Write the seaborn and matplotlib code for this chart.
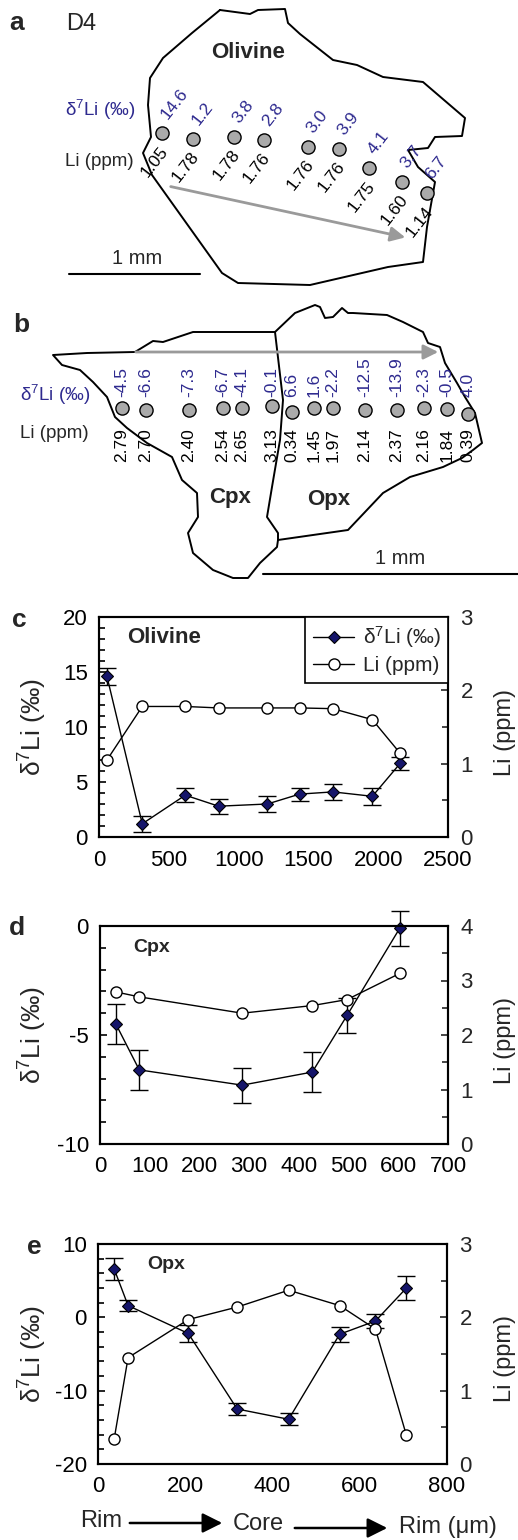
import numpy as np
import pandas as pd
import matplotlib
matplotlib.use("Agg")
import matplotlib.pyplot as plt
import seaborn as sns
from matplotlib.ticker import MultipleLocator

# ------------------------------------------------------------------ data
ol_dist = [57, 310, 618, 857, 1206, 1437, 1676, 1958, 2158]
ol_d7li = [14.6, 1.2, 3.8, 2.8, 3.0, 3.9, 4.1, 3.7, 6.7]
ol_d7li_err = [0.75, 0.7, 0.65, 0.7, 0.7, 0.6, 0.7, 0.8, 0.6]
ol_li = [1.05, 1.78, 1.78, 1.76, 1.76, 1.76, 1.75, 1.60, 1.14]

cpx_dist = [32, 79, 286, 427, 497, 603]
cpx_d7li = [-4.5, -6.6, -7.3, -6.7, -4.1, -0.1]
cpx_d7li_err = [0.9, 0.9, 0.8, 0.9, 0.8, 0.8]
cpx_li = [2.79, 2.70, 2.40, 2.54, 2.65, 3.13]

opx_dist = [37, 69, 207, 319, 437, 554, 636, 707]
opx_d7li = [6.6, 1.6, -2.2, -12.5, -13.9, -2.3, -0.5, 4.0]
opx_d7li_err = [1.5, 0.75, 1.1, 0.8, 0.8, 1.0, 0.9, 1.6]
opx_li = [0.34, 1.45, 1.97, 2.14, 2.37, 2.16, 1.84, 0.39]

# schematic geometry of the grain sketches (figure pixel space)
a_spot_x = [162, 193, 234, 264, 308, 339, 369, 402, 427]
a_spot_y = [133, 139, 137, 140, 147, 149, 168, 182, 193]
b_spot_x = [122, 146, 189, 223, 242, 272, 292, 314, 333, 365, 397, 424, 447, 468]
b_spot_y = [408, 410, 410, 408, 408, 406, 412, 408, 408, 410, 410, 408, 409, 414]

olivine_outline = [(220, 10), (250, 14), (258, 10), (285, 9), (288, 23), (300, 34),
                   (333, 60), (357, 65), (383, 77), (423, 82), (465, 118), (462, 136),
                   (435, 137), (428, 148), (408, 150), (418, 167), (435, 182),
                   (427, 227), (423, 262), (388, 267), (310, 285), (238, 283),
                   (222, 273), (152, 175), (143, 153), (151, 137), (148, 105),
                   (150, 78), (163, 58), (192, 33), (220, 10)]
cpx_outline = [(275, 332), (193, 332), (163, 342), (153, 341), (135, 352), (87, 353),
               (53, 355), (62, 365), (80, 370), (93, 382), (107, 397), (115, 417),
               (127, 428), (147, 443), (172, 457), (182, 480), (197, 493), (198, 517),
               (188, 533), (193, 553), (213, 570), (233, 578), (248, 578), (260, 563),
               (277, 547), (278, 540)]
grain_boundary = [(275, 332), (283, 400), (280, 440), (272, 487), (267, 517),
                  (278, 533), (278, 540)]
opx_outline = [(275, 332), (295, 313), (315, 305), (320, 307), (325, 318), (333, 317),
               (342, 308), (348, 313), (353, 313), (387, 315), (403, 322), (423, 332),
               (428, 343), (440, 347), (445, 363), (457, 383), (465, 397), (475, 413),
               (482, 443), (473, 450), (462, 458), (443, 467), (410, 477), (383, 493),
               (348, 530), (278, 540)]

# ------------------------------------------------------------------ style
sns.set_style("white")
plt.rcParams["font.family"] = ["Liberation Sans", "DejaVu Sans"]
plt.rcParams["mathtext.fontset"] = "custom"
plt.rcParams["mathtext.rm"] = "Liberation Sans"
plt.rcParams["mathtext.default"] = "regular"
plt.rcParams["axes.unicode_minus"] = False

NAVY = "#15156a"
BLUE_TXT = "#2e2a8f"
GREY_DOT = "#aaaaaa"
D7 = "δ$^{7}$Li (‰)"

W, H = 518, 1540
fig = plt.figure(figsize=(W / 100, H / 100), dpi=100)

# overlay axes in pixel coordinates for sketches and free text
ov = fig.add_axes([0, 0, 1, 1])
ov.set_xlim(0, W)
ov.set_ylim(H, 0)
ov.axis("off")


def poly(pts, **kw):
    xs, ys = zip(*pts)
    ov.plot(xs, ys, color="black", lw=1.4, solid_joinstyle="round", **kw)


# ---------------- panel a
poly(olivine_outline)
ov.annotate("", xy=(408, 238), xytext=(168, 186),
            arrowprops=dict(arrowstyle="-|>", color="#9a9a9a", lw=2, mutation_scale=22))
sns.scatterplot(x=a_spot_x, y=a_spot_y, ax=ov, s=90, color=GREY_DOT,
                edgecolor="black", linewidth=1, zorder=5, legend=False)
for x, y, d, li in zip(a_spot_x, a_spot_y, ol_d7li, ol_li):
    ov.text(x + 2, y - 16, f"{d:.1f}", color=BLUE_TXT, fontsize=12.5, rotation=52,
            rotation_mode="anchor", ha="left", va="center")
    ov.text(x + 3, y + 15, f"{li:.2f}", color="black", fontsize=12.5, rotation=52,
            rotation_mode="anchor", ha="right", va="center")
ov.text(17, 23, "a", fontsize=19, fontweight="bold", ha="center", va="center")
ov.text(66, 24, "D4", fontsize=17, ha="left", va="center")
ov.text(248, 53, "Olivine", fontsize=16, fontweight="bold", ha="center", va="center")
ov.text(100, 110, D7, fontsize=13.5, color=BLUE_TXT, ha="center", va="center")
ov.text(99, 162, "Li (ppm)", fontsize=13.5, ha="center", va="center")
ov.plot([69, 200], [274, 274], color="black", lw=1.5)
ov.text(137, 259, "1 mm", fontsize=14.5, ha="center", va="center")

# ---------------- panel b
poly(cpx_outline)
poly(grain_boundary)
poly(opx_outline)
ov.annotate("", xy=(441, 352), xytext=(133, 352),
            arrowprops=dict(arrowstyle="-|>", color="#9a9a9a", lw=2, mutation_scale=22))
sns.scatterplot(x=b_spot_x, y=b_spot_y, ax=ov, s=90, color=GREY_DOT,
                edgecolor="black", linewidth=1, zorder=5, legend=False)
b_d7 = cpx_d7li + opx_d7li
b_li = cpx_li + opx_li
for x, d, li in zip(b_spot_x, b_d7, b_li):
    ov.text(x, 397, f"{d:.1f}", color=BLUE_TXT, fontsize=12.5, rotation=90,
            ha="center", va="bottom")
    ov.text(x, 428, f"{li:.2f}", color="black", fontsize=12.5, rotation=90,
            ha="center", va="top")
ov.text(21, 325, "b", fontsize=19, fontweight="bold", ha="center", va="center")
ov.text(55, 395, D7, fontsize=13.5, color=BLUE_TXT, ha="center", va="center")
ov.text(54, 433, "Li (ppm)", fontsize=13.5, ha="center", va="center")
ov.text(230, 498, "Cpx", fontsize=16, fontweight="bold", ha="center", va="center")
ov.text(329, 500, "Opx", fontsize=16, fontweight="bold", ha="center", va="center")
ov.plot([263, 518], [574, 574], color="black", lw=1.5)
ov.text(400, 558, "1 mm", fontsize=14.5, ha="center", va="center")


# ---------------- chart panels
def panel(px, dist, d7, err, li, xlim, xmaj, xmin, ylim, ymaj, ymin,
          y2lim, y2maj, y2min, name, name_pos, name_size, letter, letter_pos):
    l, t, r, b = px
    ax = fig.add_axes([l / W, 1 - b / H, (r - l) / W, (b - t) / H])
    ax2 = ax.twinx()
    df = pd.DataFrame({"dist": dist, "d7": d7, "err": err, "li": li})
    ax.errorbar(df["dist"], df["d7"], yerr=df["err"], fmt="none", ecolor="black",
                elinewidth=1, capsize=6.5, capthick=1, clip_on=False, zorder=2)
    sns.lineplot(data=df, x="dist", y="d7", ax=ax, sort=False, estimator=None,
                 color="black", lw=1, marker="D", markersize=6.5,
                 markerfacecolor=NAVY, markeredgecolor="black",
                 markeredgewidth=0.8, zorder=3, clip_on=False)
    l_d7 = ax.lines[-1]
    sns.lineplot(data=df, x="dist", y="li", ax=ax2, sort=False, estimator=None,
                 color="black", lw=1, marker="o", markersize=8,
                 markerfacecolor="white", markeredgecolor="black",
                 markeredgewidth=1, zorder=3, clip_on=False)
    l_li = ax2.lines[-1]
    ax.set_xlim(*xlim)
    ax.set_ylim(*ylim)
    ax2.set_ylim(*y2lim)
    ax.xaxis.set_major_locator(MultipleLocator(xmaj))
    if xmin:
        ax.xaxis.set_minor_locator(MultipleLocator(xmin))
    ax.yaxis.set_major_locator(MultipleLocator(ymaj))
    ax.yaxis.set_minor_locator(MultipleLocator(ymin))
    ax2.yaxis.set_major_locator(MultipleLocator(y2maj))
    ax2.yaxis.set_minor_locator(MultipleLocator(y2min))
    for a in (ax, ax2):
        for s in a.spines.values():
            s.set_linewidth(1.5)
            s.set_color("black")
        a.set_xlabel("")
        a.set_ylabel("")
    ax.tick_params(axis="both", which="both", direction="in", top=False, right=False,
                   labelsize=16, colors="black", width=1.2)
    ax.tick_params(axis="x", which="major", length=6, pad=9)
    ax.tick_params(axis="x", which="minor", length=6)
    ax.tick_params(axis="y", which="major", length=5, pad=8)
    ax.tick_params(axis="y", which="minor", length=4)
    ax2.tick_params(axis="y", which="both", direction="in", left=False, right=True,
                    labelsize=16, width=1.2, pad=9)
    ax2.tick_params(axis="y", which="major", length=5)
    ax2.tick_params(axis="y", which="minor", length=4)
    ax.text(name_pos[0], name_pos[1], name, transform=ax.transAxes, fontsize=name_size,
            fontweight="bold", ha="left", va="center")
    cy = (t + b) / 2
    ov.text(33, cy, D7, fontsize=19, rotation=90, ha="center", va="center")
    ov.text(505, cy + 5, "Li (ppm)", fontsize=17, rotation=90, ha="center", va="center")
    ov.text(letter_pos[0], letter_pos[1], letter, fontsize=19, fontweight="bold",
            ha="center", va="center")
    return ax, ax2, l_d7, l_li


ax_c, ax_c2, h1, h2 = panel((99, 617, 448, 837), ol_dist, ol_d7li, ol_d7li_err, ol_li,
                            (0, 2500), 500, None, (0, 20), 5, 1, (0, 3), 1, 0.5,
                            "Olivine", (0.08, 0.905), 16, "c", (19, 620))
leg = ax_c2.legend([h1, h2], [D7, "Li (ppm)"], loc="upper right", borderaxespad=0,
                   frameon=True, fancybox=False, edgecolor="black", framealpha=1,
                   fontsize=15, handlelength=2.0, handletextpad=0.4, borderpad=0.35,
                   labelspacing=0.3)
leg.get_frame().set_linewidth(1.2)

panel((100, 926, 448, 1144), cpx_dist, cpx_d7li, cpx_d7li_err, cpx_li,
      (0, 700), 100, None, (-10, 0), 5, 1, (0, 4), 1, 0.5,
      "Cpx", (0.095, 0.9), 14, "d", (17, 928))

panel((98, 1244, 447, 1464), opx_dist, opx_d7li, opx_d7li_err, opx_li,
      (0, 800), 200, 100, (-20, 10), 10, 2, (0, 3), 1, 0.5,
      "Opx", (0.14, 0.905), 14, "e", (34, 1247))

# bottom direction annotation
ov.text(80, 1521, "Rim", fontsize=17, ha="left", va="center")
ov.annotate("", xy=(225, 1523), xytext=(127, 1523),
            arrowprops=dict(arrowstyle="-|>", color="black", lw=1.8, mutation_scale=30))
ov.text(233, 1524, "Core", fontsize=17, ha="left", va="center")
ov.annotate("", xy=(390, 1528), xytext=(292, 1528),
            arrowprops=dict(arrowstyle="-|>", color="black", lw=1.8, mutation_scale=30))
ov.text(399, 1527, "Rim (μm)", fontsize=17, ha="left", va="center")

fig.savefig("out.png", dpi=100)
